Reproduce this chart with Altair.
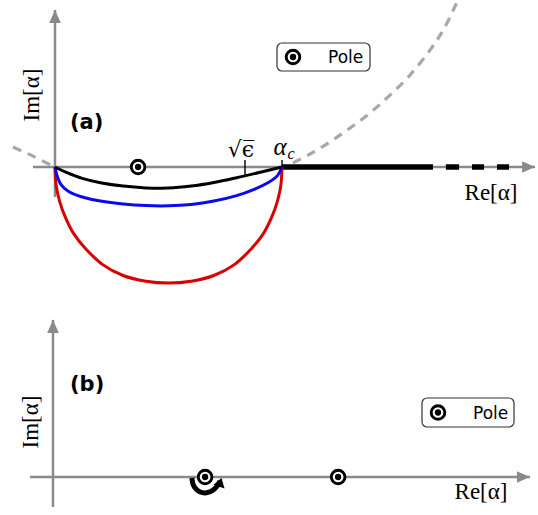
import altair as alt
import pandas as pd

W, H = 538, 515
PX = 227.0  # pixels per unit, alpha_c = 1

# panel origins on the canvas (layout)
A_OX, A_OY = 55, 167
B_OX, B_OY = 53, 477
A_XD = [-A_OX / PX, (W - A_OX) / PX]
A_YD = [-(H - A_OY) / PX, A_OY / PX]
B_XD = [-B_OX / PX, (W - B_OX) / PX]
B_YD = [-(H - B_OY) / PX, B_OY / PX]

GRAY = "#8a8a8a"
LGRAY = "#a8a8a8"

# ---------------- data ----------------
# panel (a) axes extents
a_xaxis = [-0.097, 2.115]
a_yaxis = [-0.132, 0.692]
# contours
red_re = [0, 0.005, 0.02, 0.045, 0.08, 0.135, 0.21, 0.30, 0.40, 0.5,
          0.60, 0.70, 0.79, 0.865, 0.92, 0.955, 0.98, 0.995, 1.0]
red_im = [0, -0.08, -0.15, -0.22, -0.29, -0.36, -0.43, -0.478, -0.503, -0.511,
          -0.503, -0.478, -0.43, -0.36, -0.29, -0.22, -0.15, -0.08, 0]
blue_re = [0, 0.008, 0.025, 0.06, 0.12, 0.2, 0.3, 0.4, 0.5, 0.6, 0.7, 0.8, 0.88, 0.94, 0.98, 1.0]
blue_im = [0, -0.035, -0.075, -0.108, -0.132, -0.150, -0.163, -0.170, -0.171, -0.165,
           -0.150, -0.126, -0.097, -0.068, -0.038, 0]
black_re = [0, 0.05, 0.12, 0.2, 0.3, 0.4, 0.5, 0.6, 0.7, 0.8, 0.9, 1.0]
black_im = [0, -0.024, -0.050, -0.069, -0.084, -0.092, -0.093, -0.084, -0.068, -0.047, -0.024, 0]
# branch cut
cut_start = [1.0]
cut_end = [1.665]
cut_dash_start = [1.722, 1.837, 1.947]
cut_dash_end = [1.780, 1.890, 2.000]
# gray dashed curve
para_l_re = [-0.185, -0.097, -0.010]
para_l_im = [0.088, 0.048, 0.004]
para_r_re = [1.048, 1.123, 1.211, 1.300, 1.388, 1.476, 1.564, 1.652, 1.718, 1.775]
para_r_im = [0.018, 0.057, 0.110, 0.172, 0.238, 0.317, 0.405, 0.515, 0.617, 0.736]
# ticks
sqrt_eps = 0.837
alpha_c = 1.0
# poles
pole_a_re = [0.366]
pole_a_im = [0.0]

# panel (b)
b_xaxis = [-0.101, 2.101]
b_yaxis = [-0.132, 0.692]
pole_b_re = [0.670, 1.256]
pole_b_im = [0.0, 0.0]
loop_re = [0.612, 0.618, 0.635, 0.658, 0.683, 0.707, 0.726, 0.736]
loop_im = [-0.004, -0.035, -0.058, -0.069, -0.068, -0.056, -0.036, -0.018]
loop_head = [0.742, -0.004]

ARROW_R = "M -2 -0.9 L 0 0 L -2 0.9 Z"
ARROW_U = "M -0.9 2 L 0 0 L 0.9 2 Z"
ARROW_UR = "M -1.5 1.3 L 0 0 L 0.6 2 Z"


def X(f, d):
    return alt.X(f, type="quantitative", scale=alt.Scale(domain=d, nice=False, zero=False), axis=None)


def Y(f, d):
    return alt.Y(f, type="quantitative", scale=alt.Scale(domain=d, nice=False, zero=False), axis=None)


def curve(re, im, xd, yd, **kw):
    df = pd.DataFrame({"re": re, "im": im, "i": list(range(len(re)))})
    return alt.Chart(df).mark_line(**kw).encode(x=X("re", xd), y=Y("im", yd), order=alt.Order("i:Q"))


def hrule(x1, x2, y, xd, yd, **kw):
    df = pd.DataFrame({"x1": x1, "x2": x2, "y": y})
    return alt.Chart(df).mark_rule(**kw).encode(x=X("x1", xd), x2="x2", y=Y("y", yd))


def vrule(x, y1, y2, xd, yd, **kw):
    df = pd.DataFrame({"x": x, "y1": y1, "y2": y2})
    return alt.Chart(df).mark_rule(**kw).encode(x=X("x", xd), y=Y("y1", yd), y2="y2")


def pts(re, im, xd, yd, **kw):
    df = pd.DataFrame({"re": re, "im": im})
    return alt.Chart(df).mark_point(**kw).encode(x=X("re", xd), y=Y("im", yd))


def label(re, im, txt, xd, yd, **kw):
    df = pd.DataFrame({"re": [re], "im": [im]})
    return alt.Chart(df).mark_text(text=txt, **kw).encode(x=X("re", xd), y=Y("im", yd))


one = pd.DataFrame({"k": [0]})


def box(x1, x2, y1, y2):
    return alt.Chart(one).mark_rect(cornerRadius=5, fill="white", stroke="#333333", strokeWidth=1.2).encode(
        x=alt.value(x1), x2=alt.value(x2), y=alt.value(y1), y2=alt.value(y2))


def ptext(txt, x, y, **kw):
    return alt.Chart(one).mark_text(text=txt, **kw).encode(x=alt.value(x), y=alt.value(y))


def pmark(x, y, **kw):
    return alt.Chart(one).mark_point(**kw).encode(x=alt.value(x), y=alt.value(y))


RING = dict(shape="circle", size=185, fill="white", stroke="black", strokeWidth=2.9, opacity=1)
DOT = dict(shape="circle", size=40, filled=True, color="black", opacity=1)


def pole_layers(re, im, xd, yd):
    return [pts(re, im, xd, yd, **RING), pts(re, im, xd, yd, **DOT)]


def legend(x1, x2, y1, y2):
    cy = (y1 + y2) / 2
    return [
        box(x1, x2, y1, y2),
        pmark(x1 + 16, cy, **RING),
        pmark(x1 + 16, cy, **DOT),
        ptext("Pole", x1 + 51, cy + 1, font="DejaVu Sans", fontSize=17, align="left", baseline="middle", color="black"),
    ]


# ---------------- panel (a) ----------------
xd, yd = A_XD, A_YD
pa = [
    hrule([a_xaxis[0]], [a_xaxis[1]], [0], xd, yd, color=GRAY, strokeWidth=2.5),
    vrule([0], [a_yaxis[0]], [a_yaxis[1]], xd, yd, color=GRAY, strokeWidth=2.5),
    pts([a_xaxis[1]], [0], xd, yd, shape=ARROW_R, size=169, filled=True, color=GRAY, opacity=1, strokeWidth=0),
    pts([0], [a_yaxis[1]], xd, yd, shape=ARROW_U, size=169, filled=True, color=GRAY, opacity=1, strokeWidth=0),
    curve(para_l_re, para_l_im, xd, yd, color=LGRAY, strokeWidth=3.2, strokeDash=[9, 7], interpolate="cardinal"),
    curve(para_r_re, para_r_im, xd, yd, color=LGRAY, strokeWidth=3.2, strokeDash=[9, 7], interpolate="cardinal", clip=True),
    hrule(cut_start, cut_end, [0], xd, yd, color="black", strokeWidth=5.5),
    hrule(cut_dash_start, cut_dash_end, [0, 0, 0], xd, yd, color="black", strokeWidth=5.5),
    curve(red_re, red_im, xd, yd, color="#d90000", strokeWidth=3, interpolate="cardinal"),
    curve(blue_re, blue_im, xd, yd, color="#0a0af0", strokeWidth=3, interpolate="cardinal"),
    curve(black_re, black_im, xd, yd, color="black", strokeWidth=3, interpolate="cardinal"),
    vrule([sqrt_eps], [0.031], [-0.040], xd, yd, color="black", strokeWidth=1.4),
    vrule([alpha_c], [0.031], [0.0], xd, yd, color="black", strokeWidth=1.4),
    label(sqrt_eps, 0, "√ϵ̅", xd, yd, font="DejaVu Serif", fontSize=22, dx=-4, dy=-17, align="center", baseline="middle", color="black"),
    label(alpha_c, 0, "α", xd, yd, font="Liberation Serif", fontStyle="italic", fontSize=25, dx=-2, dy=-20, align="center", baseline="middle", color="black"),
    label(alpha_c, 0, "c", xd, yd, font="Liberation Serif", fontStyle="italic", fontSize=16, dx=9, dy=-13, align="center", baseline="middle", color="black"),
] + pole_layers(pole_a_re, pole_a_im, xd, yd) + [
    ptext("(a)", 70, 123, font="DejaVu Sans", fontWeight="bold", fontSize=21, align="left", baseline="middle", color="black"),
    ptext("Im[α]", 32, 95, font="Liberation Serif", fontSize=23, angle=270, align="center", baseline="middle", color="black"),
    ptext("Re[α]", 491, 193, font="Liberation Serif", fontSize=23, align="center", baseline="middle", color="black"),
] + legend(277, 370, 43, 71)

panel_a = alt.layer(*pa)

# ---------------- panel (b) ----------------
xd, yd = B_XD, B_YD
pb = [
    hrule([b_xaxis[0]], [b_xaxis[1]], [0], xd, yd, color=GRAY, strokeWidth=2.5),
    vrule([0], [b_yaxis[0]], [b_yaxis[1]], xd, yd, color=GRAY, strokeWidth=2.5),
    pts([b_xaxis[1]], [0], xd, yd, shape=ARROW_R, size=169, filled=True, color=GRAY, opacity=1, strokeWidth=0),
    pts([0], [b_yaxis[1]], xd, yd, shape=ARROW_U, size=169, filled=True, color=GRAY, opacity=1, strokeWidth=0),
    curve(loop_re, loop_im, xd, yd, color="black", strokeWidth=5, interpolate="cardinal"),
    pts([loop_head[0]], [loop_head[1]], xd, yd, shape=ARROW_UR, size=110, filled=True, color="black", opacity=1, strokeWidth=0),
] + pole_layers(pole_b_re, pole_b_im, xd, yd) + [
    ptext("(b)", 70, 385, font="DejaVu Sans", fontWeight="bold", fontSize=21, align="left", baseline="middle", color="black"),
    ptext("Im[α]", 31, 422, font="Liberation Serif", fontSize=23, angle=270, align="center", baseline="middle", color="black"),
    ptext("Re[α]", 481, 492, font="Liberation Serif", fontSize=23, align="center", baseline="middle", color="black"),
] + legend(422, 514, 398, 427)

panel_b = alt.layer(*pb)

chart = alt.layer(panel_a, panel_b).resolve_scale(x="independent", y="independent").properties(
    width=W, height=H, autosize=alt.AutoSizeParams(type="none"), padding=0
).configure_view(strokeWidth=0)

chart.save("out.html", embed_options={"renderer": "svg", "actions": False})
